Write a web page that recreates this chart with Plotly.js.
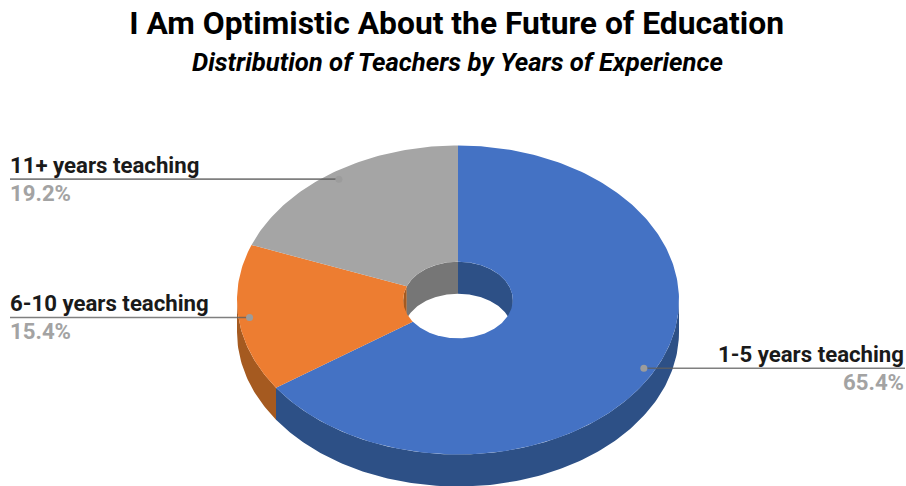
<!DOCTYPE html>
<html>
<head>
<meta charset="utf-8">
<script src="https://cdn.plot.ly/plotly-3.0.1.min.js"></script>
<style>html,body{margin:0;padding:0;background:#fff}#chart{width:906px;height:486px}</style>
</head>
<body>
<div id="chart"></div>
<script>
// Share of teachers by experience band, clockwise from twelve o'clock
const categories = ['1-5 years teaching', '6-10 years teaching', '11+ years teaching'];
const shares = [65.4, 15.4, 19.2];
const topColors = ['#4472c4', '#ed7d31', '#a5a5a5'];
const wallColors = ['#2d5086', '#a55a20', '#767676'];

const chartTitle = 'I Am Optimistic About the Future of Education';
const chartSubtitle = 'Distribution of Teachers by Years of Experience';

// Tilted disc geometry, in axis units (one unit per pixel)
const disc = {cx: 458, cy: 300, rx: 221, ry: 154.5, hole: 0.248, depth: 32};
const calloutRadius = 0.95;
const calloutEnds = [905, 10, 10];
const labelSide = ['right', 'left', 'left'];

function point(deg, r, drop) {
  const a = deg * Math.PI / 180;
  return [disc.cx + disc.rx * r * Math.sin(a), disc.cy - disc.ry * r * Math.cos(a) + drop];
}
function arc(from, to, r, drop) {
  const pts = [];
  const n = Math.max(2, Math.ceil(Math.abs(to - from)));
  for (let i = 0; i <= n; i++) pts.push(point(from + (to - from) * i / n, r, drop));
  return pts;
}
function polygon(name, pts, color) {
  return {
    type: 'scatter', mode: 'lines', name: name, hoverinfo: 'skip', showlegend: false,
    x: pts.concat([pts[0]]).map(p => p[0]),
    y: pts.concat([pts[0]]).map(p => p[1]),
    fill: 'toself', fillcolor: color, line: {width: 0, color: color}
  };
}

// Slice spans in degrees
let running = 0;
const spans = shares.map(v => {
  const total = shares.reduce((s, x) => s + x, 0);
  const from = running;
  running += v / total * 360;
  return [from, running];
});

const walls = [], faces = [], callouts = [], annotations = [];

function overlap(span, lo, hi) {
  const from = Math.max(span[0], lo), to = Math.min(span[1], hi);
  return from < to ? [from, to] : null;
}

categories.forEach((name, i) => {
  const span = spans[i];

  // Rim of the disc: only the near half faces the viewer
  const near = overlap(span, 90, 270);
  if (near) {
    walls.push(polygon(name, arc(near[0], near[1], 1, 0).concat(arc(near[1], near[0], 1, disc.depth)), wallColors[i]));
  }
  // Inside of the hole: only the far half faces the viewer
  [[0, 90], [270, 360]].forEach(range => {
    const far = overlap(span, range[0], range[1]);
    if (far) {
      walls.push(polygon(name, arc(far[0], far[1], disc.hole, 0).concat(arc(far[1], far[0], disc.hole, disc.depth)), wallColors[i]));
    }
  });

  // Top surface
  faces.push(polygon(name, arc(span[0], span[1], 1, 0).concat(arc(span[1], span[0], disc.hole, 0)), topColors[i]));

  // Callout from the middle of the slice to its label
  const mid = point((span[0] + span[1]) / 2, calloutRadius, 0);
  callouts.push({
    type: 'scatter', mode: 'lines', hoverinfo: 'skip', showlegend: false, name: name,
    x: [mid[0], calloutEnds[i]], y: [mid[1], mid[1]],
    line: {color: 'rgba(95,95,95,0.8)', width: 1.6}
  });
  callouts.push({
    type: 'scatter', mode: 'markers', hoverinfo: 'skip', showlegend: false, name: name,
    x: [mid[0]], y: [mid[1]],
    marker: {color: '#9c9c9c', size: 7, line: {width: 0}}
  });

  const common = {
    xref: 'x', yref: 'y', x: calloutEnds[i], y: mid[1], xanchor: labelSide[i], yanchor: 'middle',
    showarrow: false, borderpad: 0, xshift: labelSide[i] === 'left' ? -1 : 0
  };
  annotations.push(Object.assign({}, common, {
    text: name, yshift: 14,
    font: {family: 'Roboto', size: 22.2, weight: 700, color: '#1a1a1a'}
  }));
  annotations.push(Object.assign({}, common, {
    text: shares[i].toFixed(1) + '%', yshift: -14,
    font: {family: 'Roboto', size: 22.2, weight: 700, color: '#a3a3a3'}
  }));
});

const layout = {
  width: 906, height: 486,
  margin: {l: 0, r: 0, t: 0, b: 0},
  paper_bgcolor: '#ffffff', plot_bgcolor: '#ffffff',
  showlegend: false,
  title: {
    text: chartTitle, x: 0.504, xanchor: 'center', y: 0.952, yanchor: 'middle',
    font: {family: 'Roboto', size: 31.8, weight: 700, color: '#000000'}
  },
  xaxis: {range: [0, 906], visible: false, fixedrange: true},
  yaxis: {range: [486, 0], visible: false, fixedrange: true},
  annotations: annotations.concat([{
    xref: 'paper', yref: 'paper', x: 0.5045, y: 0.872, xanchor: 'center', yanchor: 'middle',
    showarrow: false, text: chartSubtitle,
    font: {family: 'Roboto', size: 25.7, weight: 700, style: 'italic', color: '#000000'}
  }])
};

Plotly.newPlot('chart', walls.concat(faces, callouts), layout, {displayModeBar: false, staticPlot: true});
</script>
</body>
</html>
